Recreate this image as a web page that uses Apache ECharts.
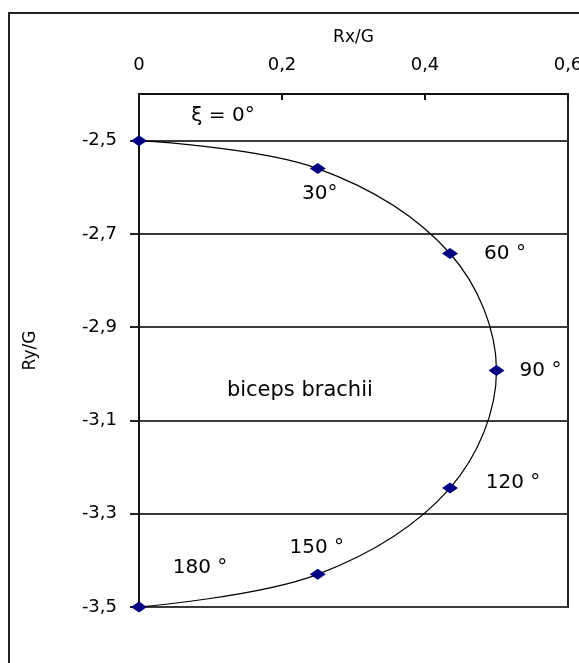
<!DOCTYPE html>
<html><head><meta charset="utf-8">
<script src="https://cdn.jsdelivr.net/npm/echarts@6/dist/echarts.min.js"></script>
<style>html,body{margin:0;padding:0;background:#fff}#c{width:579px;height:663px}</style>
</head><body><div id="c"></div>
<script>
// ---- data ----
const angleLabels = ['ξ = 0°', '30°', '60 °', '90 °', '120 °', '150 °', '180 °'];
const rxValues = [0, 0.25, 0.435, 0.5, 0.435, 0.25, 0];
const ryValues = [-2.5, -2.56, -2.742, -2.993, -3.245, -3.43, -3.5];
const xTickValues = [0, 0.2, 0.4, 0.6];
const yTickValues = [-3.5, -3.3, -3.1, -2.9, -2.7, -2.5];
const muscleName = 'biceps brachii';
const muscleLabelAt = [0.225, -3.035];
const xAxisName = 'Rx/G';
const yAxisName = 'Ry/G';

// ---- styling ----
const FONT = 'DejaVu Sans';
const TXT = '#000';
const labelPlacement = [
  { offset: [84, -25] },
  { offset: [2, 25] },
  { offset: [55, 0] },
  { offset: [44, 0] },
  { offset: [63, -5] },
  { offset: [-1, -27] },
  { offset: [61, -39] }
];
const fmt = v => String(Math.round(v * 10) / 10).replace('.', ',');

const chart = echarts.init(document.getElementById('c'), null, { renderer: 'canvas' });
chart.setOption({
  animation: false,
  backgroundColor: '#fff',
  graphic: [{
    type: 'rect', z: -10,
    shape: { x: 9, y: 13, width: 620, height: 700 },
    style: { fill: 'none', stroke: '#222', lineWidth: 2 }
  }],
  grid: { left: 139, right: 11, top: 94, bottom: 56, show: true, borderColor: '#222', borderWidth: 2,
    backgroundColor: 'transparent', containLabel: false, outerBoundsMode: 'none' },
  xAxis: {
    type: 'value', position: 'top', min: xTickValues[0], max: xTickValues[xTickValues.length - 1], interval: 0.2,
    name: xAxisName, nameLocation: 'middle', nameGap: 48,
    nameTextStyle: { fontFamily: FONT, fontSize: 17, color: TXT },
    axisLine: { show: true, lineStyle: { color: '#111', width: 2 } },
    axisTick: { show: true, inside: true, length: 6, lineStyle: { color: '#111', width: 2 } },
    axisLabel: { margin: 20, fontFamily: FONT, fontSize: 18, color: TXT, formatter: fmt, hideOverlap: false },
    splitLine: { show: false }
  },
  yAxis: {
    type: 'value', position: 'left', min: -3.5, max: -2.4, interval: 0.2,
    name: yAxisName, nameLocation: 'middle', nameGap: 100,
    nameTextStyle: { fontFamily: FONT, fontSize: 17, color: TXT },
    axisLine: { show: true, onZero: false, lineStyle: { color: '#111', width: 2 } },
    axisTick: { show: true, inside: false, length: 9, customValues: yTickValues, lineStyle: { color: '#222', width: 2 } },
    axisLabel: { margin: 22, fontFamily: FONT, fontSize: 18, color: TXT, customValues: yTickValues,
      formatter: v => yTickValues.some(t => Math.abs(t - v) < 1e-6) ? fmt(v) : '' },
    splitLine: { show: true, lineStyle: { color: '#3a3a3a', width: 2 } }
  },
  series: [{
    type: 'line',
    clip: false,
    smooth: 0.35,
    symbol: 'diamond',
    symbolSize: [16, 11],
    itemStyle: { color: '#000080' },
    lineStyle: { color: '#000', width: 1.2 },
    label: { show: true, position: 'inside', fontFamily: FONT, fontSize: 20, color: TXT },
    data: rxValues.map((x, i) => ({
      value: [x, ryValues[i]],
      label: { formatter: angleLabels[i], offset: labelPlacement[i].offset }
    }))
  }, {
    type: 'scatter',
    symbolSize: 0,
    silent: true,
    itemStyle: { opacity: 1, color: '#000' },
    label: { show: true, position: 'inside', fontFamily: FONT, fontSize: 21, color: TXT, opacity: 1, formatter: muscleName },
    data: [muscleLabelAt]
  }]
});
</script></body></html>
